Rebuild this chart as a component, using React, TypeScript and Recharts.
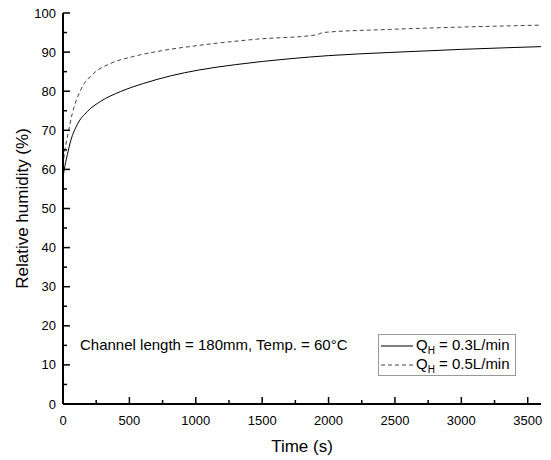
import { LineChart, Line, XAxis, YAxis, Legend } from "recharts";

const solidTime = [0, 15, 33, 58, 108, 183, 283, 433, 608, 808, 1020, 1300, 1708, 2000, 2458, 3000, 3600];
const solidRH = [58, 61, 63.8, 67.3, 71.5, 74.8, 77.4, 79.9, 82.0, 83.9, 85.4, 86.8, 88.3, 89.1, 89.9, 90.7, 91.4];

const dashedTime = [0, 12, 33, 70, 133, 233, 358, 533, 733, 1020, 1458, 1908, 1958, 2458, 3000, 3600];
const dashedRH = [61, 64.5, 68.3, 74.3, 80.3, 84.6, 87.1, 88.9, 90.3, 91.7, 93.3, 94.4, 95.0, 95.8, 96.4, 96.9];

const xTicks = [0, 250, 500, 750, 1000, 1250, 1500, 1750, 2000, 2250, 2500, 2750, 3000, 3250, 3500];
const yTicks = [0, 5, 10, 15, 20, 25, 30, 35, 40, 45, 50, 55, 60, 65, 70, 75, 80, 85, 90, 95, 100];

const FONT = "'Liberation Sans', Arial, sans-serif";

const solidData = solidTime.map((t, i) => ({ t, rh: solidRH[i] }));
const dashedData = dashedTime.map((t, i) => ({ t, rh: dashedRH[i] }));

const series = [
  { name: "0.3L/min", data: solidData, dash: undefined as string | undefined, color: "#000" },
  { name: "0.5L/min", data: dashedData, dash: "4 3", color: "#444" },
];

// ticks point inward, majors labelled
function XTick(props: any) {
  const { x, y, payload } = props;
  const major = payload.value % 500 === 0;
  return (
    <g>
      <path d={`M${x},${y}V${y - (major ? 7 : 4)}`} stroke="#000" strokeWidth={1.5} fill="none" />
      {major && (
        <text x={x} y={y + 21} textAnchor="middle" fontSize={13} fontFamily={FONT} fill="#000">
          {payload.value}
        </text>
      )}
    </g>
  );
}

function YTick(props: any) {
  const { x, y, payload } = props;
  const major = payload.value % 10 === 0;
  return (
    <g>
      <path d={`M${x},${y}H${x + (major ? 7 : 4)}`} stroke="#000" strokeWidth={1.5} fill="none" />
      {major && (
        <text x={x - 7} y={y + 4.5} textAnchor="end" fontSize={13} fontFamily={FONT} fill="#000">
          {payload.value}
        </text>
      )}
    </g>
  );
}

function LegendBox() {
  return (
    <div
      style={{
        border: "1px solid #999",
        background: "#fff",
        fontFamily: FONT,
        fontSize: 15,
        color: "#000",
        padding: "1px 2px",
        boxSizing: "border-box",
      }}
    >
      {series.map((s) => (
        <div key={s.name} style={{ display: "flex", alignItems: "center", height: 19 }}>
          <svg width={33} height={10}>
            <line x1={0} x2={32} y1={5} y2={5} stroke={s.color} strokeWidth={1} strokeDasharray={s.dash} />
          </svg>
          <span style={{ marginLeft: 2, whiteSpace: "nowrap", color: "#000" }}>
            Q<sub style={{ fontSize: 10, verticalAlign: -4, color: "#000" }}>H</sub> = {s.name}
          </span>
        </div>
      ))}
    </div>
  );
}

export default function App() {
  return (
    <div style={{ position: "absolute", left: 0, top: 0, width: 551, height: 460, background: "#fff" }}>
      <LineChart width={551} height={460} margin={{ top: 13, right: 10, left: 0, bottom: 0 }}>
        <XAxis
          xAxisId="b"
          dataKey="t"
          type="number"
          domain={[0, 3600]}
          ticks={xTicks}
          interval={0}
          height={56}
          tickSize={0}
          tickMargin={0}
          tickLine={false}
          tick={XTick}
          stroke="#000"
          strokeWidth={2}
          allowDataOverflow
          label={{
            content: (p: any) => (
              <text
                x={p.viewBox.x + p.viewBox.width / 2}
                y={p.viewBox.y + 48}
                textAnchor="middle"
                fontSize={17}
                fontFamily={FONT}
                fill="#000"
              >
                Time (s)
              </text>
            ),
          }}
        />
        <XAxis xAxisId="top" orientation="top" type="number" domain={[0, 3600]} height={0} tick={false} tickLine={false} stroke="#000" strokeWidth={2} />
        <YAxis
          yAxisId="l"
          type="number"
          domain={[0, 100]}
          ticks={yTicks}
          interval={0}
          width={63}
          tickSize={0}
          tickMargin={0}
          tickLine={false}
          tick={YTick}
          stroke="#000"
          strokeWidth={2}
          label={{
            content: (p: any) => {
              const cx = p.viewBox.x + 22;
              const cy = p.viewBox.y + p.viewBox.height / 2;
              return (
                <text
                  x={cx}
                  y={cy}
                  transform={`rotate(-90 ${cx} ${cy})`}
                  textAnchor="middle"
                  dominantBaseline="central"
                  fontSize={17}
                  fontFamily={FONT}
                  fill="#000"
                >
                  Relative humidity (%)
                </text>
              );
            },
          }}
        />
        <YAxis yAxisId="r" orientation="right" type="number" domain={[0, 100]} width={0} tick={false} tickLine={false} stroke="#000" strokeWidth={2} />
        {series.map((s) => (
          <Line
            key={s.name}
            xAxisId="b"
            yAxisId="l"
            data={s.data}
            dataKey="rh"
            type="monotone"
            stroke={s.color}
            strokeWidth={1}
            strokeDasharray={s.dash}
            dot={false}
            isAnimationActive={false}
          />
        ))}
        <Legend
          layout="horizontal"
          verticalAlign="middle"
          align="center"
          width={138}
          wrapperStyle={{ position: "absolute", left: 378, top: 334, width: 138, height: 41 }}
          content={() => <LegendBox />}
        />
      </LineChart>
      <div
        style={{
          position: "absolute",
          left: 80,
          top: 336,
          fontFamily: FONT,
          fontSize: 15,
          whiteSpace: "nowrap",
          color: "#000",
        }}
      >
        Channel length = 180mm, Temp. = 60°C
      </div>
    </div>
  );
}
